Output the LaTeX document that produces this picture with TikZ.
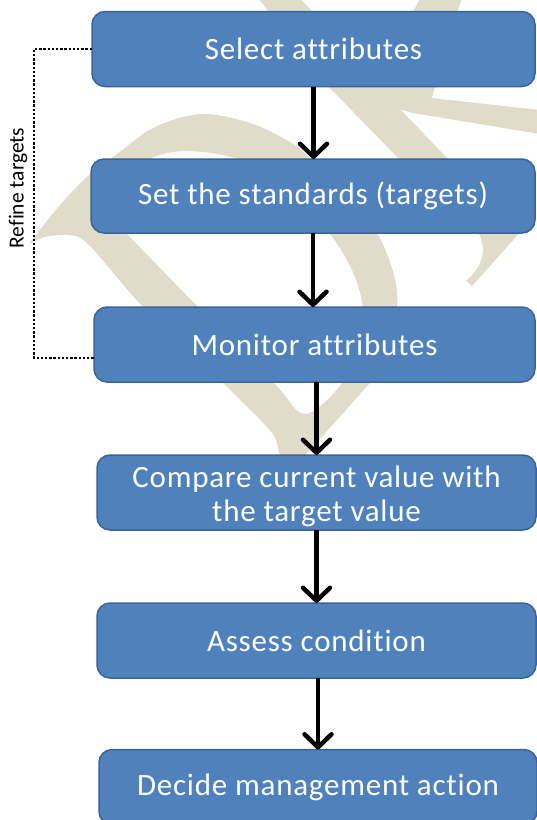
\documentclass[tikz,border=0pt]{standalone}
\usepackage{fontspec}
\setmainfont{Carlito}[Ligatures={NoCommon,NoRequired,NoContextual}]
\newfontfamily\boxfont{Carlito}[LetterSpace=2.5,Ligatures={NoCommon,NoRequired,NoContextual}]
\usetikzlibrary{arrows.meta}
\definecolor{boxblue}{HTML}{4F81BD}
\definecolor{boxedge}{HTML}{3B6496}
\definecolor{wmark}{RGB}{224,220,201}
\begin{document}
\begin{tikzpicture}[x=1pt,y=-1pt,
  stepbox/.style={draw=boxedge, fill=boxblue, line width=1.5pt, rounded corners=13pt,
    text=white, font=\boxfont\fontsize{31}{34}\selectfont, align=center,
    inner sep=0pt, outer sep=0pt, minimum height=75pt},
  boxtext/.style={text=white, font=\boxfont\fontsize{31}{34.5}\selectfont, align=center, inner sep=0pt},
  flow/.style={line width=4.5pt, -{Straight Barb[length=13pt,width=27pt,round]}},
  refine/.style={line width=2.6pt, dash pattern=on 2.4pt off 1.8pt},
  wm/.style={fill=wmark}]
\useasboundingbox (0,0) rectangle (537,820);

% watermark
\fill[wm, even odd rule]
  plot[smooth, tension=0.55] coordinates {(29,244) (60,205) (92,172) (113,157) (155,127) (202,114) (250,123) (290,142) (312,160) (345,196) (377,233) (394,275) (397,308) (388,350) (370,383)}
  -- (301,460) -- (281,460)
  -- plot[smooth, tension=0.55] coordinates {(276,440) (267,427) (223,383) (144,308) (89,245) (68,235) (44,237)} -- cycle
  plot[smooth cycle, tension=0.55] coordinates {(305,414) (342,383) (358,340) (363,308) (352,270) (329,233) (290,193) (240,160) (185,151) (147,160) (112,184) (98,205) (123,230) (199,308) (274,383)};
\fill[wm] (258,-2) -- (327,85) -- (400,160) -- (476,228)
  .. controls (488,248) and (484,265) .. (466,281) -- (472,286) -- (524,228)
  -- (449,160) -- (377,85) -- (300,-2) -- cycle;
\fill[wm] (420,-2) -- (462,-2) -- (445,50) -- (432,98) -- (540,110) -- (540,134)
  -- (413,113) -- (395,108) -- (377,85) -- cycle;

% boxes
\node[stepbox, minimum width=443pt] (b1) at (313.5,49) {Select attributes};
\node[stepbox, minimum width=444pt, minimum height=74pt] (b2) at (313,196) {Set the standards (targets)};
\node[stepbox, minimum width=441pt] (b3) at (314.5,344.5) {Monitor attributes};
\node[stepbox, minimum width=439pt] (b4) at (316.5,492.5) {};
\node[boxtext] (b4t) at ([yshift=-4pt]b4.center) {Compare current value with\\the target value};
\node[stepbox, minimum width=439pt] (b5) at (316.5,640.5) {Assess condition};
\node[stepbox, minimum width=438pt] (b6) at (318,787) {Decide management action};

% arrows
\draw[flow] (b1.south) -- (b1.south |- b2.north);
\draw[flow] (b2.south) -- (b2.south |- b3.north);
\draw[flow] (b3.south -| b4.north) -- (b4.north);
\draw[flow] (b4.south) -- (b5.north);
\draw[flow] (b5.south -| b6.north) -- (b6.north);

% refine loop
\node[rotate=90, font=\fontsize{21.5}{24}\selectfont] (lbl) at (18,188) {Refine targets};
\draw[refine] (b1.west) -- ++(-58,0) |- ([yshift=-13.5pt]b3.west);
\end{tikzpicture}
\end{document}
